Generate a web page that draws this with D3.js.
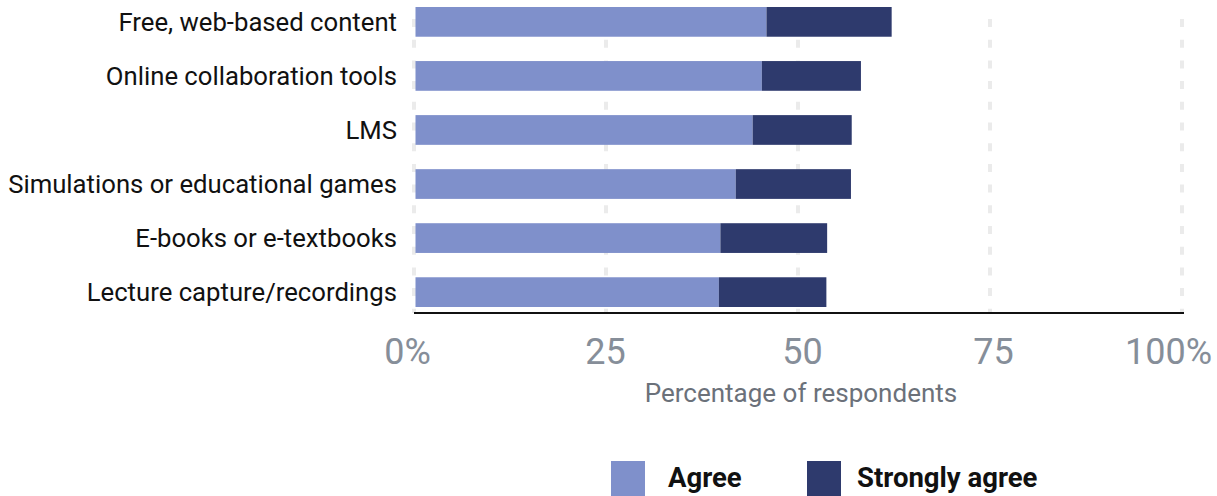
<!DOCTYPE html>
<html>
<head>
<meta charset="utf-8">
<script src="https://cdn.jsdelivr.net/npm/d3@7"></script>
<style>
  html, body { margin: 0; padding: 0; background: #fff; }
  svg { display: block; font-family: Roboto, "Noto Sans", sans-serif; }
</style>
</head>
<body>
<svg id="chart" width="1217" height="496"></svg>
<script>
const categories = [
  "Free, web-based content",
  "Online collaboration tools",
  "LMS",
  "Simulations or educational games",
  "E-books or e-textbooks",
  "Lecture capture/recordings"
];
const agree = [45.7, 45.1, 43.9, 41.7, 39.7, 39.5];
const stronglyAgree = [16.3, 12.9, 12.9, 15.0, 13.9, 14.0];
const seriesNames = ["Agree", "Strongly agree"];
const seriesColors = ["#7f90cb", "#2e3a6d"];
const tickValues = [0, 25, 50, 75, 100];
const tickLabels = ["0%", "25", "50", "75", "100%"];
const axisTitle = "Percentage of respondents";

const svg = d3.select("#chart");

const x = d3.scaleLinear().domain([0, 100]).range([414, 1182]);
const y = d3.scaleBand().domain(categories).range([7, 307]).paddingInner(0.45);

const rows = categories.map((c, i) => ({ cat: c, a: agree[i], s: stronglyAgree[i] }));
const stack = d3.stack().keys(["a", "s"])(rows);

// gridlines
svg.append("g")
  .selectAll("line")
  .data(tickValues)
  .join("line")
  .attr("x1", d => x(d)).attr("x2", d => x(d))
  .attr("y1", 19).attr("y2", 313)
  .attr("stroke", "#ebebeb")
  .attr("stroke-width", 4)
  .attr("stroke-dasharray", "8 12.7");

// bars
svg.append("g")
  .selectAll("g")
  .data(stack)
  .join("g")
  .attr("fill", (d, i) => seriesColors[i])
  .selectAll("rect")
  .data(d => d)
  .join("rect")
  .attr("x", d => x(d[0]) + 1.5)
  .attr("y", d => y(d.data.cat))
  .attr("width", d => x(d[1]) - x(d[0]))
  .attr("height", y.bandwidth());

// y category labels
svg.append("g")
  .selectAll("text")
  .data(categories)
  .join("text")
  .attr("x", 397)
  .attr("y", d => y(d) + y.bandwidth() / 2)
  .attr("dy", "0.36em")
  .attr("text-anchor", "end")
  .attr("fill", "#111")
  .attr("font-size", 25.7)
  .text(d => d);

// x axis
const xAxis = d3.axisBottom(x)
  .tickValues(tickValues)
  .tickFormat((d, i) => tickLabels[i])
  .tickSize(0)
  .tickPadding(0);

const axisG = svg.append("g")
  .attr("transform", "translate(0,313)")
  .call(xAxis);
axisG.select(".domain")
  .attr("stroke", "#111")
  .attr("stroke-width", 2)
  .attr("d", `M${x(0)},0H${x(100) + 2}`);
const tickDx = [-7, -1, 4, 3, -14];
axisG.selectAll(".tick text")
  .attr("y", 51)
  .attr("dy", 0)
  .attr("dx", (d, i) => tickDx[i])
  .attr("fill", "#868e99")
  .attr("font-size", 36)
  .attr("font-family", "Roboto, sans-serif");

svg.append("text")
  .attr("x", 801)
  .attr("y", 402)
  .attr("text-anchor", "middle")
  .attr("fill", "#6b717a")
  .attr("font-size", 26)
  .text(axisTitle);

// legend
const legendX = [611, 807];
const legend = svg.append("g")
  .selectAll("g")
  .data(seriesNames)
  .join("g")
  .attr("transform", (d, i) => `translate(${legendX[i]},461)`);
legend.append("rect")
  .attr("width", 34).attr("height", 35)
  .attr("fill", (d, i) => seriesColors[i]);
legend.append("text")
  .attr("x", (d, i) => i === 0 ? 57 : 50)
  .attr("y", 26)
  .attr("font-size", 27.5)
  .attr("font-weight", "bold")
  .attr("fill", "#111")
  .text(d => d);
</script>
</body>
</html>
